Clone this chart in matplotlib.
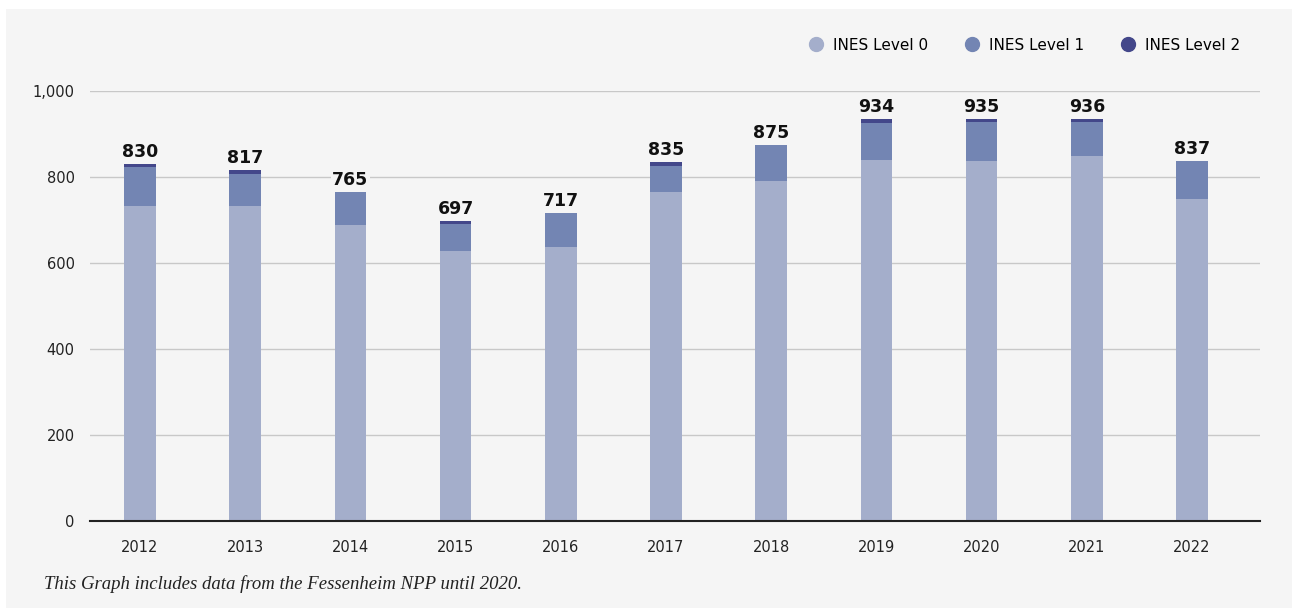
import matplotlib
matplotlib.use("Agg")
import matplotlib.pyplot as plt
from matplotlib.lines import Line2D
from matplotlib.patches import Rectangle
import numpy as np

years = ["2012", "2013", "2014", "2015", "2016", "2017", "2018", "2019", "2020", "2021", "2022"]
level0 = [733, 733, 688, 628, 637, 765, 791, 840, 837, 849, 749]
level1 = [91, 75, 77, 62, 80, 61, 84, 85, 91, 80, 88]
level2 = [6, 9, 0, 7, 0, 9, 0, 9, 7, 7, 0]
totals = [830, 817, 765, 697, 717, 835, 875, 934, 935, 936, 837]

C0 = "#a4aecb"
C1 = "#7385b3"
C2 = "#43478a"
BG = "#f5f5f5"

plt.rcParams["font.family"] = ["DejaVu Sans"]

fig = plt.figure(figsize=(12.92, 6.08), dpi=100)
fig.patches.append(Rectangle((6 / 1292, 0), 1, 1 - 9 / 608, transform=fig.transFigure,
                             facecolor=BG, edgecolor="none", zorder=-10))
ax = fig.add_axes([90 / 1292, 1 - 521 / 608, 1170 / 1292, 430 / 608])
ax.set_facecolor("none")

x = np.arange(len(years))
w = 0.30
b1 = np.array(level0)
b2 = b1 + np.array(level1)
ax.bar(x, level0, w, color=C0, zorder=3)
ax.bar(x, level1, w, bottom=b1, color=C1, zorder=3)
ax.bar(x, level2, w, bottom=b2, color=C2, zorder=3)

for xi, t in zip(x, totals):
    ax.text(xi, t + 7, f"{t:,}", ha="center", va="bottom", fontsize=12.5,
            fontweight="bold", color="#111111", zorder=5,
            bbox=dict(facecolor=BG, edgecolor="none", pad=1.0))

ax.set_xlim(-0.475, 10.646)
ax.set_ylim(0, 1000)
ax.set_yticks([0, 200, 400, 600, 800, 1000])
ax.set_yticklabels(["0", "200", "400", "600", "800", "1,000"])
ax.set_xticks(x)
ax.set_xticklabels(years)
ax.tick_params(axis="both", length=0, labelsize=10.5, colors="#222222")
ax.tick_params(axis="y", pad=11)
ax.tick_params(axis="x", pad=14)
ax.grid(axis="y", color="#c8c8c8", linewidth=1, zorder=0)
for s in ["top", "right", "left"]:
    ax.spines[s].set_visible(False)
ax.spines["bottom"].set_color("#222222")
ax.spines["bottom"].set_linewidth(1.5)
ax.spines["bottom"].set_zorder(4)

handles = [Line2D([], [], marker="o", linestyle="none", markersize=10, color=c)
           for c in (C0, C1, C2)]
fig.legend(handles, ["INES Level 0", "INES Level 1", "INES Level 2"],
           loc="center right", bbox_to_anchor=(1254 / 1292, 1 - 45 / 608), ncol=3,
           frameon=False, fontsize=11, handletextpad=0.6, columnspacing=2.4,
           handlelength=1.0)

fig.text(44 / 1292, 1 - 584 / 608, "This Graph includes data from the Fessenheim NPP until 2020.",
         fontsize=13.5, style="italic", family=["Liberation Serif", "DejaVu Serif"],
         color="#222222", va="center", ha="left")

fig.savefig("out.png", dpi=100, facecolor="white")
